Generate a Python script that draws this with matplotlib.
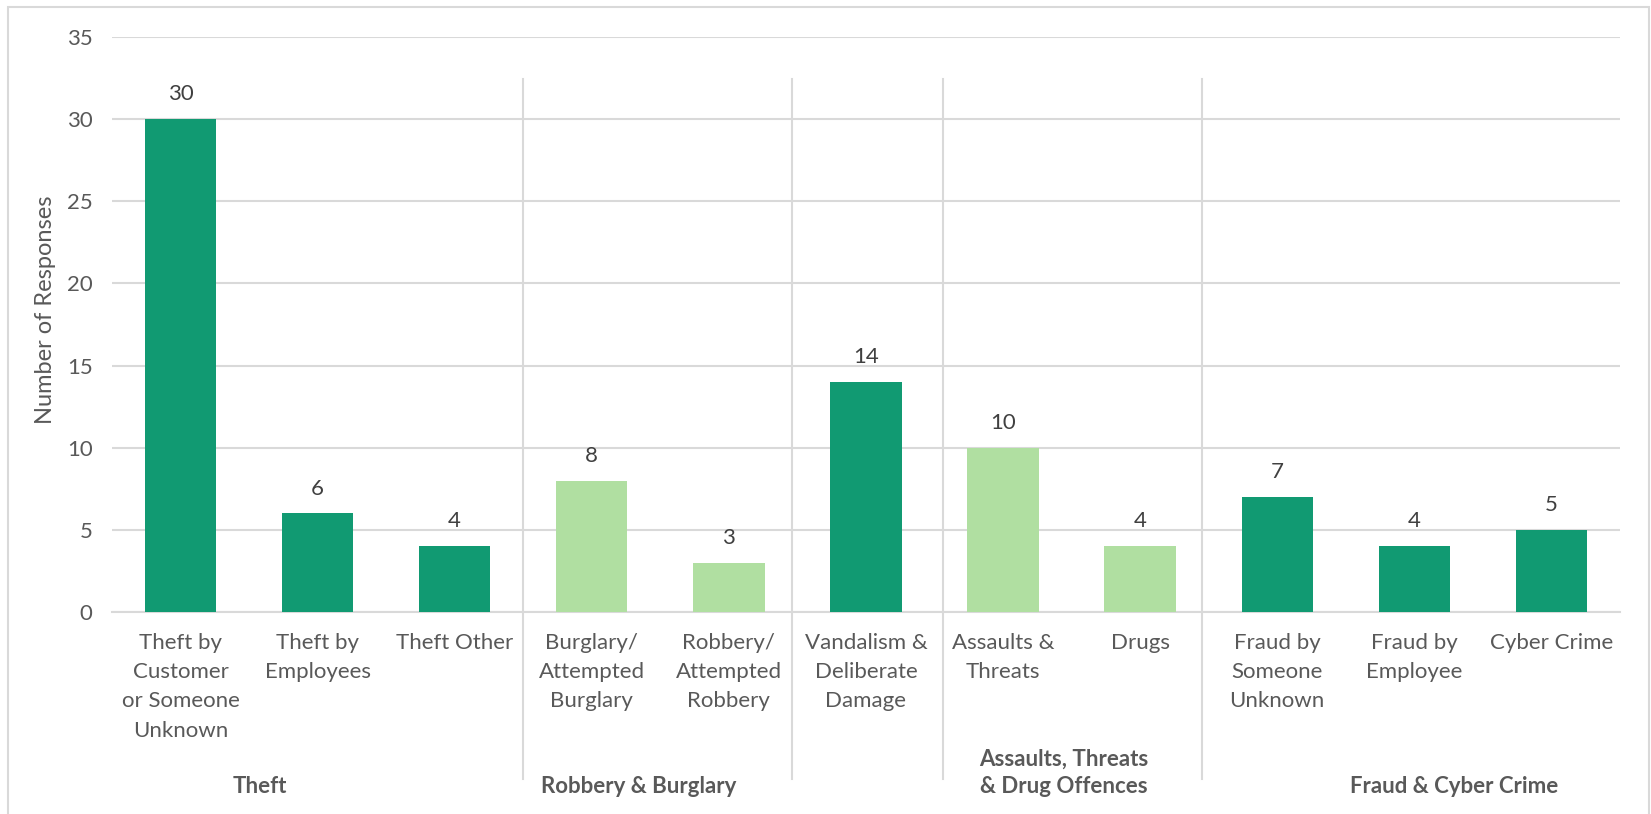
import matplotlib
matplotlib.use('Agg')
import matplotlib.pyplot as plt
from matplotlib import transforms
from matplotlib.patches import Rectangle

categories = ['Theft by\nCustomer\nor Someone\nUnknown', 'Theft by\nEmployees', 'Theft Other',
              'Burglary/\nAttempted\nBurglary', 'Robbery/\nAttempted\nRobbery',
              'Vandalism &\nDeliberate\nDamage', 'Assaults &\nThreats', 'Drugs',
              'Fraud by\nSomeone\nUnknown', 'Fraud by\nEmployee', 'Cyber Crime']
values = [30, 6, 4, 8, 3, 14, 10, 4, 7, 4, 5]
shade = ['dark', 'dark', 'dark', 'light', 'light', 'dark', 'light', 'light', 'dark', 'dark', 'dark']
groups = ['Theft', 'Robbery & Burglary', 'Assaults, Threats\n& Drug Offences', 'Fraud & Cyber Crime']
group_label_x = [0.58, 3.34, 6.44, 9.29]
group_breaks = [2.5, 4.46, 5.56, 7.45]

dark = '#119A72'
light = '#B0DFA1'
grey = '#595959'

plt.rcParams['font.family'] = ['Lato', 'DejaVu Sans']

fig = plt.figure(figsize=(16.51, 8.14), dpi=100)
ax = fig.add_axes([0.0678, 0.2482, 0.9134, 0.7063])

x = range(len(values))
cols = [dark if s == 'dark' else light for s in shade]
bars = ax.bar(x, values, width=0.52, color=cols, zorder=3)
for b, v in zip(bars, values):
    ax.text(b.get_x() + b.get_width()/2, v + 0.9, str(v), ha='center', va='bottom',
            fontsize=16, color='#404040')

ax.set_xlim(-0.5, len(values) - 0.5)
ax.set_ylim(0, 35)
ax.set_yticks(range(0, 36, 5))
ax.grid(axis='y', color='#D9D9D9', lw=1.5, zorder=0)
for s in ['top', 'right', 'left']:
    ax.spines[s].set_visible(False)
ax.spines['bottom'].set_color('#D9D9D9')
ax.spines['bottom'].set_linewidth(1.5)
ax.tick_params(axis='both', length=0, labelsize=16, labelcolor=grey)
ax.tick_params(axis='x', pad=15)
ax.tick_params(axis='y', pad=14)
ax.set_xticks(list(x))
ax.set_xticklabels(categories, linespacing=1.58)
ax.set_ylabel('Number of Responses', fontsize=17, color=grey)
ax.yaxis.set_label_coords(-0.037, 0.525)

trans = transforms.blended_transform_factory(ax.transData, ax.transAxes)
for gx in group_breaks:
    ax.plot([gx, gx], [0.927, -0.29], transform=trans, color='#D9D9D9', lw=1.5,
            clip_on=False, zorder=1)

for gx, g in zip(group_label_x, groups):
    ax.text(gx, -0.322, g, transform=trans, ha='center', va='bottom', fontsize=16,
            fontweight='bold', color=grey, linespacing=1.4)

fig.patches.append(Rectangle((8/1651, -0.1), 1641/1651, 1 - 7/814 + 0.1,
                             transform=fig.transFigure, fill=False,
                             edgecolor='#D9D9D9', lw=1.5))

fig.savefig('out.png', dpi=100)
